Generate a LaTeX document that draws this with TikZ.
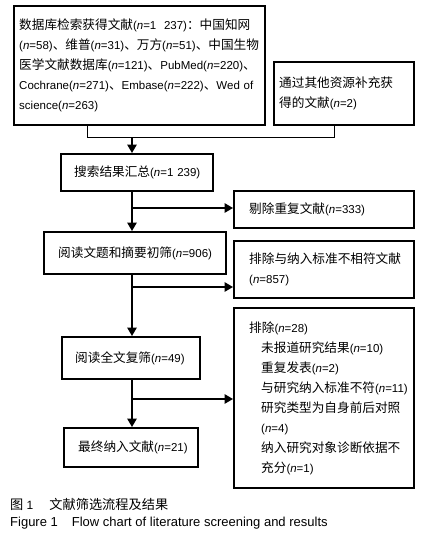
\documentclass[tikz,border=0pt]{standalone}
\usepackage{fontspec}
\setmainfont{Liberation Sans}
\newfontfamily\cjk[Scale=1.1]{Noto Sans CJK SC}
\usetikzlibrary{arrows.meta, positioning}
\newcommand\nval{\textit{n}}

\begin{document}
\begin{tikzpicture}[
  x=1pt, y=-1pt,
  font=\fontsize{11.5}{20}\selectfont,
  box/.style={rectangle, draw=black, line width=2.4pt, anchor=north west, align=left, inner ysep=0pt},
  caption/.style={anchor=west, inner sep=0pt},
  mergeline/.style={line width=0.9pt},
  arrow/.style={-{Triangle[length=8.5pt,width=9.5pt]}, line width=1.5pt}
]
\useasboundingbox (0,0) rectangle (422,538);

% Identification
\node[box, inner xsep=5pt, text width=241pt, minimum height=119pt] (search) at (13,5) {%
{\cjk 数据库检索获得文献}(\nval=1~~237){\cjk ：中国知网}\\
(\nval=58){\cjk 、维普}(\nval=31){\cjk 、万方}(\nval=51){\cjk 、中国生物}\\
{\cjk 医学文献数据库}(\nval=121){\cjk 、}PubMed(\nval=220){\cjk 、}\\
Cochrane(\nval=271){\cjk 、}Embase(\nval=222){\cjk 、}Wed of\\
science(\nval=263)};
\node[box, inner xsep=5pt, text width=130pt, minimum height=63pt] (other) at (273,61) {%
{\cjk 通过其他资源补充获}\\
{\cjk 得的文献}(\nval=2)};

% Screening
\node[box, inner xsep=13pt, text width=126pt, minimum height=37pt] (merged) at (60,153) {{\cjk 搜索结果汇总}(\nval=1~239)};
\node[box, inner xsep=15pt, text width=150pt, minimum height=37pt] (dupl) at (233,190) {{\cjk 剔除重复文献}(\nval=333)};
\node[box, inner xsep=14pt, text width=154pt, minimum height=42pt] (title) at (43,231) {{\cjk 阅读文题和摘要初筛}(\nval=906)};
\node[box, inner xsep=15pt, text width=150pt, minimum height=57pt] (excl1) at (233,240) {%
{\cjk 排除与纳入标准不相符文献}\\
(\nval=857)};
\node[box, inner xsep=13pt, text width=112pt, minimum height=42pt] (fulltext) at (61,336) {{\cjk 阅读全文复筛}(\nval=49)};
\node[box, inner xsep=15pt, text width=150pt, minimum height=180pt] (excl2) at (233,307) {%
{\cjk 排除}(\nval=28)\\
\hspace*{12pt}{\cjk 未报道研究结果}(\nval=10)\\
\hspace*{12pt}{\cjk 重复发表}(\nval=2)\\
\hspace*{12pt}{\cjk 与研究纳入标准不符}(\nval=11)\\
\hspace*{12pt}{\cjk 研究类型为自身前后对照}\\
\hspace*{12pt}(\nval=4)\\
\hspace*{12pt}{\cjk 纳入研究对象诊断依据不}\\
\hspace*{12pt}{\cjk 充分}(\nval=1)};
\node[box, inner xsep=14pt, text width=106pt, minimum height=39pt] (final) at (63,427) {{\cjk 最终纳入文献}(\nval=21)};

% Caption
\node[caption, font=\fontsize{12}{14}\selectfont] (cap1) at (10,504) {{\cjk 图} 1\hspace{16pt}{\cjk 文献筛选流程及结果}};
\node[caption, font=\fontsize{13}{15}\selectfont] (cap2) at (10,523) {Figure 1\hspace{14pt}Flow chart of literature screening and results};

% Connectors
\coordinate (spine) at (132,0);
\coordinate (jA) at (87,137);
\coordinate (jB) at (334,137);
\coordinate (bE) at (132,208);
\coordinate (bF) at (132,287);
\coordinate (bH) at (132,399);

\draw[mergeline] (jA |- search.south) -- (jA) -- (jB) -- (jB |- other.south);
\draw[arrow] (spine |- jA) -- (spine |- merged.north);
\draw[arrow] (spine |- merged.south) -- (spine |- title.north);
\draw[arrow] (bE) -- (bE -| dupl.west);
\draw[arrow] (spine |- title.south) -- (spine |- fulltext.north);
\draw[arrow] (bF) -- (bF -| excl1.west);
\draw[arrow] (spine |- fulltext.south) -- (spine |- final.north);
\draw[arrow] (bH) -- (bH -| excl2.west);

\end{tikzpicture}
\end{document}
